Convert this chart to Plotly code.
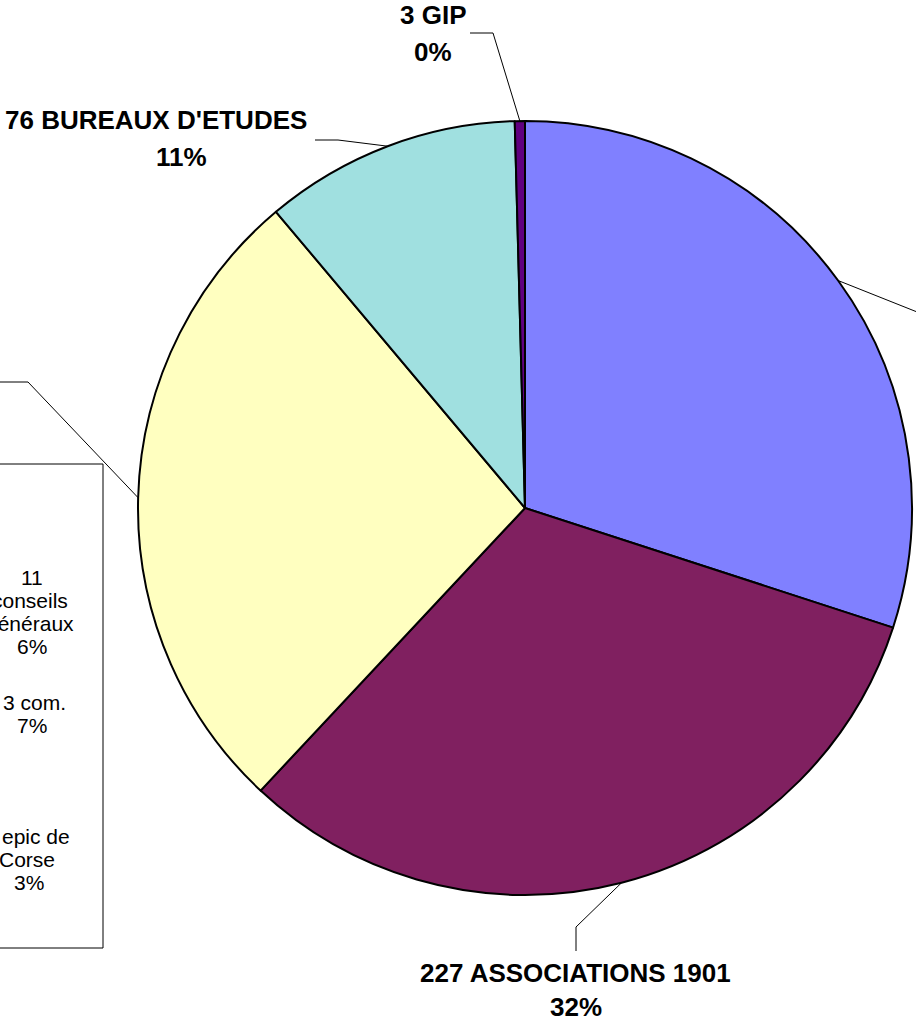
import math
import plotly.graph_objects as go

# ---------------- data ----------------
categories = ["AUTRES ORGANISMES", "ASSOCIATIONS 1901", "COLLECTIVITES", "BUREAUX D'ETUDES", "GIP"]
counts = [213, 227, 191, 76, 3]
pct_labels = ["30%", "32%", "27%", "11%", "0%"]
colors = ["#8080FF", "#802060", "#FFFFC0", "#A0E0E0", "#600080"]

# breakdown box (partly cropped on the left in the reference)
box_lines = ["11", "conseils", "généraux", "6%", "3 com.", "7%", "epic de", "Corse", "3%"]

# ---------------- geometry (pixels) ----------------
W, H = 916, 1020
CX, CY, R = 525, 508, 387


def px(x):
    return x / W


def py(y):
    return 1 - y / H


fig = go.Figure()
fig.add_trace(go.Pie(
    labels=categories,
    values=counts,
    sort=False,
    direction="clockwise",
    rotation=0,
    marker=dict(colors=colors, line=dict(color="#000000", width=2)),
    textinfo="none",
    hoverinfo="label+value+percent",
    showlegend=False,
    domain=dict(x=[px(CX - R), px(CX + R)], y=[py(CY + R), py(CY - R)]),
))

# mid angles of slices (clockwise from 12 o'clock)
total = sum(counts)
mids = []
cum = 0
for v in counts:
    mids.append((cum + v / 2) / total * 2 * math.pi)
    cum += v


def arc_point(i):
    a = mids[i]
    return CX + R * math.sin(a), CY - R * math.cos(a)


# leader lines: (slice index, elbow, end)
leaders = [
    (0, (990, 341), None),
    (1, (576, 927), (576, 951)),
    (2, (28, 382), (-20, 382)),
    (3, (338, 140), (315, 140)),
    (4, (493, 33), (470, 33)),
]
for i, elbow, end in leaders:
    x0, y0 = arc_point(i)
    path = f"M {px(x0)},{py(y0)} L {px(elbow[0])},{py(elbow[1])}"
    if end is not None:
        path += f" L {px(end[0])},{py(end[1])}"
    fig.add_shape(type="path", path=path, xref="paper", yref="paper",
                  line=dict(color="#000000", width=1))

# outside labels (bold): (slice, name x, name y, name anchor, pct x, pct y)
bold_font = dict(family="Arial, Liberation Sans, sans-serif", size=26, color="#000000")
outside = [
    (1, 575, 973, "center", 576, 1007),
    (3, 309, 120, "right", 181, 157),
    (4, 433, 15, "center", 433, 52),
]
for i, x, y, anc, x2, y2 in outside:
    fig.add_annotation(x=px(x), y=py(y), xref="paper", yref="paper",
                       text=f"<b>{counts[i]} {categories[i]}</b>", showarrow=False,
                       font=bold_font, xanchor=anc, yanchor="middle")
    fig.add_annotation(x=px(x2), y=py(y2), xref="paper", yref="paper",
                       text=f"<b>{pct_labels[i]}</b>", showarrow=False,
                       font=bold_font, xanchor="center", yanchor="middle")

# breakdown box
fig.add_shape(type="rect", x0=px(-50), x1=px(103), y0=py(948), y1=py(464),
              xref="paper", yref="paper", line=dict(color="#000000", width=1),
              fillcolor="rgba(0,0,0,0)")
reg_font = dict(family="Arial, Liberation Sans, sans-serif", size=21, color="#000000")
# (text index, x, y, anchor)
box_pos = [
    (0, 32, 577, "center"),
    (1, 70, 600, "right"),
    (2, 76, 623, "right"),
    (3, 32, 646, "center"),
    (4, 68, 702, "right"),
    (5, 32, 725, "center"),
    (6, 72, 836, "right"),
    (7, 57, 859, "right"),
    (8, 28.5, 882, "center"),
]
for j, x, y, anc in box_pos:
    fig.add_annotation(x=px(x), y=py(y), xref="paper", yref="paper",
                       text=box_lines[j], showarrow=False, font=reg_font,
                       xanchor=anc, yanchor="middle")

fig.update_layout(
    width=W, height=H,
    margin=dict(l=0, r=0, t=0, b=0),
    paper_bgcolor="#FFFFFF",
    plot_bgcolor="#FFFFFF",
)
fig.write_html(
    "out.html",
    config={"displayModeBar": False},
    post_script="document.body.style.margin='0';document.body.style.overflow='hidden';",
)
